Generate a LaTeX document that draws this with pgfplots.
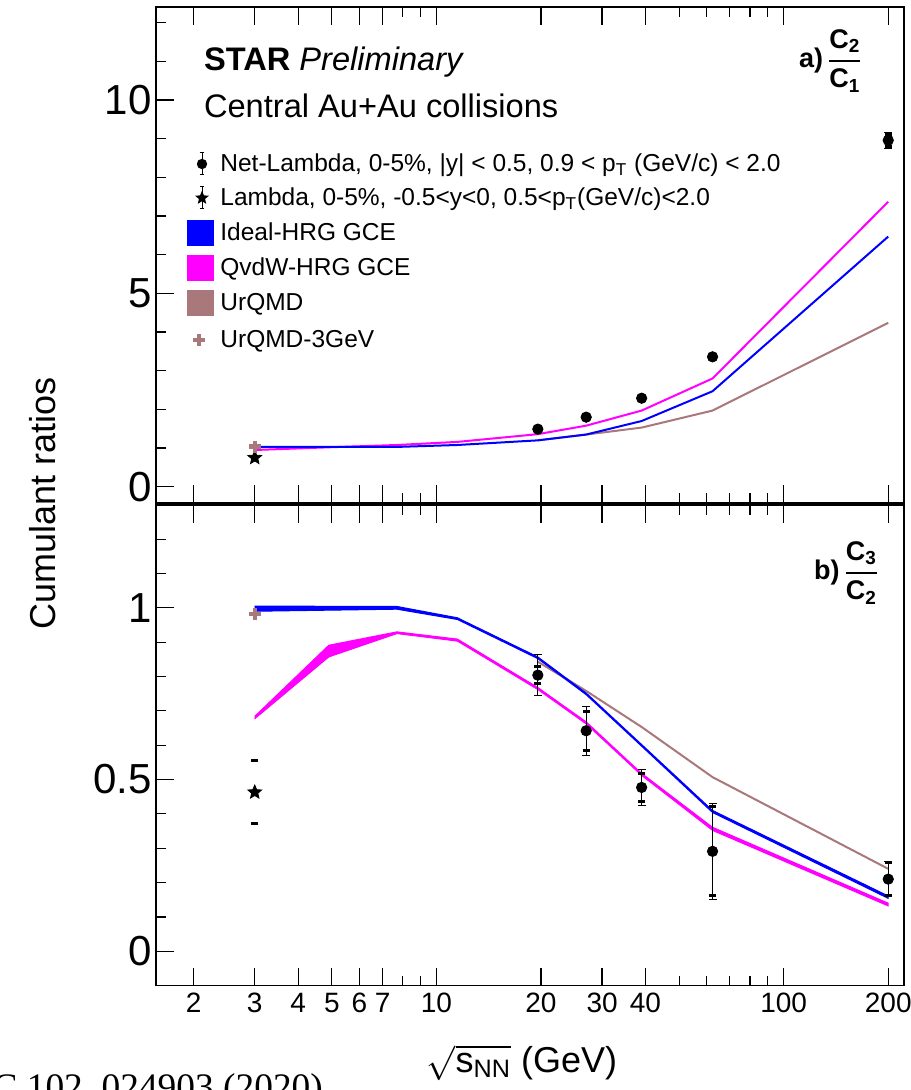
\documentclass[border=0pt]{standalone}
\usepackage{amsmath}
\usepackage{fontspec}
\setmainfont{Liberation Sans}
\newfontfamily\serif{Liberation Serif}
\usepackage{pgfplots}
\pgfplotsset{compat=1.18}
\usepackage{pgfplotstable}

\definecolor{hrgblue}{RGB}{0,0,255}
\definecolor{qvdw}{RGB}{255,0,255}
\definecolor{urqmd}{RGB}{168,120,122}

% filled five-pointed star plot mark
\pgfdeclareplotmark{fstar}{%
  \pgfpathmoveto{\pgfqpointpolar{90}{\pgfplotmarksize}}%
  \pgfpathlineto{\pgfqpointpolar{126}{0.45\pgfplotmarksize}}%
  \pgfpathlineto{\pgfqpointpolar{162}{\pgfplotmarksize}}%
  \pgfpathlineto{\pgfqpointpolar{198}{0.45\pgfplotmarksize}}%
  \pgfpathlineto{\pgfqpointpolar{234}{\pgfplotmarksize}}%
  \pgfpathlineto{\pgfqpointpolar{270}{0.45\pgfplotmarksize}}%
  \pgfpathlineto{\pgfqpointpolar{306}{\pgfplotmarksize}}%
  \pgfpathlineto{\pgfqpointpolar{342}{0.45\pgfplotmarksize}}%
  \pgfpathlineto{\pgfqpointpolar{18}{\pgfplotmarksize}}%
  \pgfpathlineto{\pgfqpointpolar{54}{0.45\pgfplotmarksize}}%
  \pgfpathclose
  \pgfusepathqfillstroke}

% ---------- top panel: C2/C1 ----------
\pgfplotstableread{
x y
19.6 1.49
27 1.80
39 2.29
62.4 3.36
200 8.96
}\topNet
\pgfplotstableread{
x y
200 8.75
200 9.17
}\topStat
\pgfplotstableread{
x y
200 8.80
200 9.12
}\topSys
\pgfplotstableread{
x y
3 1.03
7.7 1.03
11.5 1.08
19.6 1.20
27 1.35
39 1.70
62.4 2.47
200 6.47
}\topIdeal
\pgfplotstableread{
x y
3 0.95
4.9 1.02
7.7 1.08
11.5 1.16
19.6 1.36
27 1.58
39 1.97
62.4 2.80
200 7.37
}\topQvdW
\pgfplotstableread{
x y
19.6 1.20
27 1.35
39 1.53
62.4 1.97
200 4.24
}\topUrQMD

% ---------- bottom panel: C3/C2 ----------
\pgfplotstableread{
x y
19.6 0.804
27 0.642
39 0.477
62.4 0.291
200 0.210
}\botNet
% statistical error bars (lower / upper ends)
\pgfplotstableread{
x y
19.6 0.744
19.6 0.864
19.6 nan
27 0.570
27 0.714
27 nan
39 0.424
39 0.530
39 nan
62.4 0.151
62.4 0.431
62.4 nan
200 0.160
200 0.260
}\botStat
% systematic error ends
\pgfplotstableread{
x y
19.6 0.779
19.6 0.829
27 0.586
27 0.698
39 0.437
39 0.517
62.4 0.161
62.4 0.421
200 0.163
200 0.257
3 0.556
3 0.373
}\botSys
% band outlines: upper edge left->right, then lower edge right->left
\pgfplotstableread{
x y
3 1.005
7.7 1.004
11.5 0.971
19.6 0.857
27 0.752
39 0.602
62.4 0.410
200 0.161
200 0.154
62.4 0.404
39 0.597
27 0.747
19.6 0.852
11.5 0.966
7.7 0.996
3 0.990
}\botIdeal
\pgfplotstableread{
x y
3 0.684
4.9 0.891
7.7 0.930
11.5 0.909
19.6 0.768
27 0.668
39 0.518
62.4 0.361
200 0.140
200 0.132
62.4 0.352
39 0.512
27 0.662
19.6 0.762
11.5 0.903
7.7 0.925
4.9 0.857
3 0.677
}\botQvdW
\pgfplotstableread{
x y
19.6 0.843
27 0.758
39 0.653
62.4 0.507
200 0.240
}\botUrQMD

\begin{document}
\begin{tikzpicture}
\path[use as bounding box] (0pt,0pt) rectangle (455pt,545pt);

% ================= top panel =================
\begin{semilogxaxis}[scale only axis, width=373.9pt, height=247.85pt,
  anchor=south west, at={(77.95pt,293.5pt)},
  xmin=1.558, xmax=221.6, ymin=-0.42, ymax=12.4,
  axis line style={line width=0.8pt},
  tick style={line width=0.6pt, black},
  xtick pos=both, ytick pos=left, tick align=inside,
  major tick length=9pt, minor tick length=5pt,
  xtick={2,3,4,5,6,7,10,20,30,40,100,200},
  xticklabels={2,3,4,5,6,7,10,20,30,40,100,200},
  minor xtick={8,9,50,60,70,80,90},
  xticklabel style={text opacity=0},
  ytick={0,5,10}, yticklabels={0,5,10},
  minor ytick={1,2,3,4,6,7,8,9,11,12},
  yticklabel style={font=\fontsize{21}{24}\selectfont, inner sep=0pt, xshift=-2pt},
]
\addplot[forget plot, urqmd, line width=1pt] table[x=x,y=y]{\topUrQMD};
\addplot[forget plot, qvdw, line width=1pt] table[x=x,y=y]{\topQvdW};
\addplot[forget plot, hrgblue, line width=1pt] table[x=x,y=y]{\topIdeal};
\addplot[forget plot, black, line width=0.5pt, mark=-, mark size=2pt] table[x=x,y=y]{\topStat};
\addplot[forget plot, black, only marks, mark=-, mark size=1.8pt, mark options={line width=1.5pt}] table[x=x,y=y]{\topSys};
\addplot[forget plot, black, line width=0.5pt, mark=-, mark size=1.5pt] coordinates {(3,0.68) (3,0.82)};
\addplot[forget plot, black, only marks, mark=*, mark size=2.6pt] table[x=x,y=y]{\topNet};
\addplot[forget plot, black, only marks, mark=fstar, mark size=3.6pt] coordinates {(3,0.75)};
\addplot[forget plot, urqmd, only marks, mark=+, mark size=3pt, mark options={line width=2.2pt}] coordinates {(3,1.04)};
\end{semilogxaxis}

% ================= bottom panel =================
\begin{semilogxaxis}[scale only axis, width=373.9pt, height=240.4pt,
  anchor=south west, at={(77.95pt,52.2pt)},
  xmin=1.558, xmax=221.6, ymin=-0.1, ymax=1.3,
  axis line style={line width=0.8pt},
  tick style={line width=0.6pt, black},
  xtick pos=both, ytick pos=left, tick align=inside,
  major tick length=9pt, minor tick length=5pt,
  xtick={2,3,4,5,6,7,10,20,30,40,100,200},
  xticklabels={2,3,4,5,6,7,10,20,30,40,100,200},
  minor xtick={8,9,50,60,70,80,90},
  xticklabel style={font=\fontsize{14}{16}\selectfont, inner sep=0pt, yshift=-3.5pt},
  ytick={0,0.5,1}, yticklabels={0,0.5,1},
  minor ytick={0.1,0.2,0.3,0.4,0.6,0.7,0.8,0.9,1.1,1.2},
  yticklabel style={font=\fontsize{21}{24}\selectfont, inner sep=0pt, xshift=-2pt},
]
\addplot[forget plot, urqmd, line width=1pt] table[x=x,y=y]{\botUrQMD};
\addplot[forget plot, draw=qvdw, fill=qvdw, line width=0.5pt] table[x=x,y=y]{\botQvdW};
\addplot[forget plot, draw=hrgblue, fill=hrgblue, line width=0.5pt] table[x=x,y=y]{\botIdeal};
\addplot[forget plot, black, line width=0.5pt, unbounded coords=jump, mark=-, mark size=2pt] table[x=x,y=y]{\botStat};
\addplot[forget plot, black, only marks, mark=-, mark size=1.8pt, mark options={line width=1.5pt}] table[x=x,y=y]{\botSys};
\addplot[forget plot, black, only marks, mark=*, mark size=2.6pt] table[x=x,y=y]{\botNet};
\addplot[forget plot, black, only marks, mark=fstar, mark size=3.6pt] coordinates {(3,0.463)};
\addplot[forget plot, urqmd, only marks, mark=+, mark size=3pt, mark options={line width=2.2pt}] coordinates {(3,0.982)};
\end{semilogxaxis}

% ================= legend =================
\begin{scope}[font=\fontsize{12.25}{14}\selectfont]
  \draw[black, line width=0.5pt] (101pt,457.5pt) -- (101pt,468.5pt)
     (99.8pt,457.5pt) -- (102.2pt,457.5pt) (99.8pt,468.5pt) -- (102.2pt,468.5pt);
  \fill[black] (101pt,463pt) circle (2.6pt);
  \node[anchor=base west, inner sep=0pt] at (110pt,459pt)
     {Net-Lambda, 0-5\%, |y| < 0.5, 0.9 < p\textsubscript{T} (GeV/c) < 2.0};
  \draw[black, line width=0.5pt] (101pt,440.5pt) -- (101pt,451.5pt)
     (99.8pt,440.5pt) -- (102.2pt,440.5pt) (99.8pt,451.5pt) -- (102.2pt,451.5pt);
  \fill[black, shift={(101pt,446pt)}] (0pt,3.6pt) -- (-0.952pt,1.311pt) -- (-3.424pt,1.112pt)
     -- (-1.541pt,-0.501pt) -- (-2.116pt,-2.912pt) -- (0pt,-1.62pt) -- (2.116pt,-2.912pt)
     -- (1.541pt,-0.501pt) -- (3.424pt,1.112pt) -- (0.952pt,1.311pt) -- cycle;
  \node[anchor=base west, inner sep=0pt] at (110pt,442pt)
     {Lambda, 0-5\%, -0.5<y<0, 0.5<p\textsubscript{T}(GeV/c)<2.0};
  \fill[hrgblue] (93.5pt,422pt) rectangle (107pt,435pt);
  \node[anchor=base west, inner sep=0pt] at (110pt,424.5pt) {Ideal-HRG GCE};
  \fill[qvdw] (93.5pt,404.5pt) rectangle (107pt,417.5pt);
  \node[anchor=base west, inner sep=0pt] at (110pt,407pt) {QvdW-HRG GCE};
  \fill[urqmd] (93.5pt,387pt) rectangle (107pt,400pt);
  \node[anchor=base west, inner sep=0pt] at (110pt,389.5pt) {UrQMD};
  \draw[urqmd, line width=2.2pt] (96.5pt,375pt) -- (102.5pt,375pt) (99.5pt,372pt) -- (99.5pt,378pt);
  \node[anchor=base west, inner sep=0pt] at (110pt,371pt) {UrQMD-3GeV};
\end{scope}

% ================= texts =================
\node[anchor=base west, font=\fontsize{16.3}{19}\selectfont] at (98.5pt,509.5pt)
  {\textbf{STAR} \textit{Preliminary}};
\node[anchor=base west, font=\fontsize{16.3}{19}\selectfont] at (98.5pt,486pt)
  {Central Au+Au collisions};
\node[anchor=base west, font=\fontsize{13.5}{16}\selectfont\bfseries] at (396pt,511pt)
  {a)\hspace{2pt}$\genfrac{}{}{0.9pt}{0}{\textbf{C}_{\textbf{2}}}{\textbf{C}_{\textbf{1}}}$};
\node[anchor=base west, font=\fontsize{13.5}{16}\selectfont\bfseries] at (403.5pt,255pt)
  {b)\hspace{2pt}$\genfrac{}{}{0.9pt}{0}{\textbf{C}_{\textbf{3}}}{\textbf{C}_{\textbf{2}}}$};
\node[rotate=90, font=\fontsize{18}{20}\selectfont] at (21.5pt,293.5pt) {Cumulant ratios};
\node[font=\fontsize{18}{20}\selectfont] at (261pt,13.5pt)
  {$\sqrt{\text{s}_{\text{NN}}}$ (GeV)};
\node[anchor=base east, font=\serif\fontsize{18.7}{20}\selectfont] at (165pt,-5pt)
  {Phys. Rev. C 102, 024903 (2020)};
\end{tikzpicture}
\end{document}
